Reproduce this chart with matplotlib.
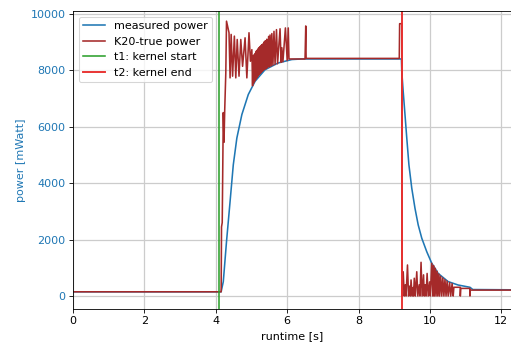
import matplotlib
matplotlib.use("Agg")
import matplotlib.pyplot as plt

plt.rcParams['font.size'] = 10.5

# measured power (sensor, smoothed)
meas_t = [0.0, 4.15, 4.21, 4.30, 4.40, 4.49, 4.59, 4.73, 4.91, 5.10, 5.38, 5.75, 6.13, 6.4,
          9.20, 9.21, 9.25, 9.30, 9.35, 9.41, 9.49, 9.58, 9.67, 9.77, 9.91, 10.05, 10.23,
          10.51, 10.79, 11.12, 11.2, 12.3]
meas_p = [150, 150, 510, 1930, 3350, 4650, 5600, 6430, 7140, 7610, 8020, 8260, 8380, 8400,
          8400, 7960, 7250, 6430, 5600, 4650, 3820, 3110, 2520, 2050, 1570, 1160, 800,
          510, 390, 310, 230, 220]

# K20 reported power
k20_t = [0.0, 4.15, 4.16, 4.18, 4.20, 4.21, 4.23, 4.25, 4.28,
         4.30, 4.37, 4.40, 4.43, 4.47, 4.52, 4.56, 4.60, 4.65, 4.70, 4.75, 4.82,
         4.87, 4.93, 4.97, 5.01,
         5.03, 5.045, 5.06, 5.075, 5.09, 5.105, 5.12, 5.135, 5.15, 5.165, 5.18, 5.195,
         5.21, 5.225, 5.24, 5.255, 5.27, 5.285, 5.30, 5.315, 5.33, 5.35, 5.37, 5.39,
         5.41, 5.43, 5.45, 5.48, 5.50, 5.52, 5.55, 5.57, 5.60, 5.63, 5.66, 5.70,
         5.73, 5.80, 5.83, 5.85, 5.88, 5.95, 6.00, 6.03, 6.05,
         6.50, 6.52, 6.53, 9.14, 9.15, 9.21, 9.22,
         9.25, 9.28, 9.31, 9.33, 9.37, 9.40, 9.43, 9.45, 9.47, 9.50, 9.53, 9.54,
         9.56, 9.59, 9.63, 9.66, 9.70, 9.72, 9.75, 9.78, 9.82, 9.84, 9.87, 9.89,
         9.92, 9.95, 9.99, 10.01,
         10.05, 10.08, 10.10, 10.12, 10.15, 10.17, 10.20, 10.22, 10.25, 10.27, 10.30,
         10.33, 10.36, 10.39, 10.42, 10.45, 10.48, 10.51, 10.55, 10.58, 10.62, 10.65,
         10.67, 10.85, 10.85, 10.86, 11.12, 11.12, 11.13, 12.3]
k20_p = [150, 150, 2450, 2600, 5500, 6500, 5450, 6600, 7900,
         9740, 9330, 7730, 9270, 7790, 9210, 7730, 9090, 7790, 9090, 8140, 9150,
         7730, 9330, 8320, 8730,
         7450, 8500, 7550, 8550, 7620, 8600, 7680, 8680, 7740, 8720, 7790, 8780,
         7840, 8820, 7880, 8860, 7920, 8900, 7960, 8930, 8000, 9000, 8030, 9050,
         8060, 9100, 8090, 9200, 8120, 9250, 8150, 9300, 8180, 9380, 8210, 9440,
         8230, 9470, 8280, 8800, 8300, 9500, 8350, 9500, 8400,
         8400, 9570, 8420, 8420, 9650, 9650, 0,
         860, 0, 400, 0, 1100, 0, 350, 0, 570, 0, 300, 0,
         630, 0, 860, 0, 400, 0, 1195, 0, 750, 0, 400, 0,
         800, 0, 500, 0,
         1160, 0, 1080, 0, 980, 0, 880, 0, 780, 0, 700,
         0, 640, 0, 580, 0, 530, 0, 480, 0, 440, 0,
         310, 310, 0, 270, 270, 0, 210, 210]

t_kernel_start = 4.09
t_kernel_end = 9.22

fig = plt.figure(figsize=(511 / 76, 347 / 76), dpi=76)
ax = fig.add_axes([0.1429, 0.1095, 0.8571, 0.8588])

ax.plot(meas_t, meas_p, color='tab:blue', lw=1.5, label='measured power')
ax.plot(k20_t, k20_p, color='brown', lw=1.5, label='K20-true power')
ax.axvline(t_kernel_start, color='tab:green', lw=1.5, label='t1: kernel start')
ax.axvline(t_kernel_end, color='#e8302f', lw=1.8, label='t2: kernel end')

ax.set_xlim(0, 12.27)
ax.set_ylim(-460, 10100)
ax.set_xticks([0, 2, 4, 6, 8, 10, 12])
ax.set_yticks([0, 2000, 4000, 6000, 8000, 10000])
ax.grid(True, color='#cccccc', lw=1.2)
ax.set_axisbelow(True)
ax.spines['right'].set_visible(False)

ax.set_xlabel('runtime [s]')
ax.set_ylabel('power [mWatt]', color='tab:blue')
ax.tick_params(axis='y', labelcolor='tab:blue')
ax.legend(loc='upper left')

fig.savefig('out.png', dpi=76)
